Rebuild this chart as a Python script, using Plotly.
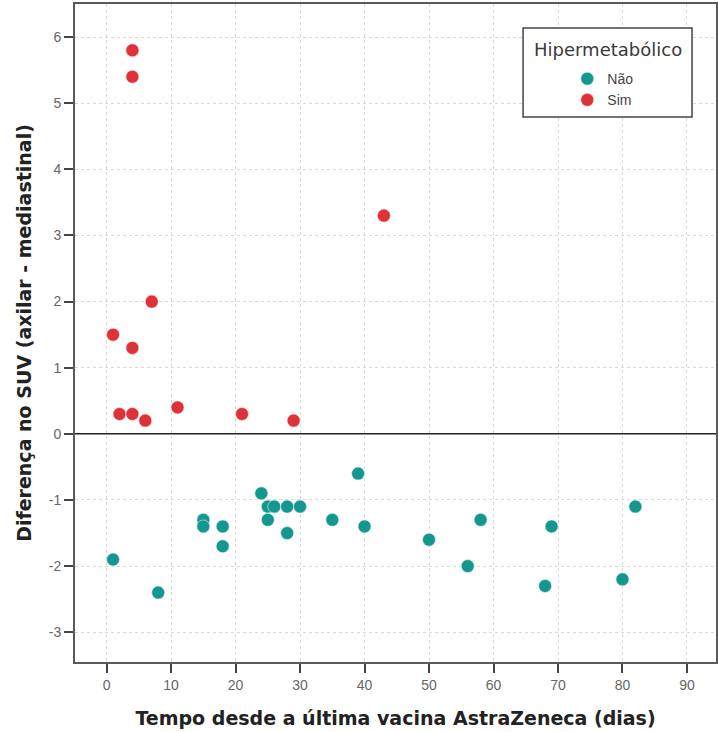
import plotly.graph_objects as go

# Não (not hypermetabolic)
nao_x = [1, 8, 15, 15, 18, 18, 24, 25, 26, 25, 28, 28, 30, 35, 39, 40, 50, 56, 58, 68, 69, 80, 82]
nao_y = [-1.9, -2.4, -1.3, -1.4, -1.4, -1.7, -0.9, -1.1, -1.1, -1.3, -1.1, -1.5, -1.1, -1.3, -0.6, -1.4, -1.6, -2.0, -1.3, -2.3, -1.4, -2.2, -1.1]
# Sim (hypermetabolic)
sim_x = [4, 4, 43, 7, 1, 4, 2, 4, 6, 11, 21, 29]
sim_y = [5.8, 5.4, 3.3, 2.0, 1.5, 1.3, 0.3, 0.3, 0.2, 0.4, 0.3, 0.2]

x_ticks = [0, 10, 20, 30, 40, 50, 60, 70, 80, 90]
y_ticks = [-3, -2, -1, 0, 1, 2, 3, 4, 5, 6]
y_tick_labels = ["-3", "-2", "-1", "0", "1", "2", "3", "4", "5", "6"]

teal = "#14978f"
red = "#de3139"
FONT = "Liberation Sans, Arial, sans-serif"
TFONT = "DejaVu Sans, Verdana, sans-serif"

fig = go.Figure()
fig.add_trace(go.Scatter(x=nao_x, y=nao_y, mode="markers", name="Não",
                         marker=dict(size=13, color=teal, line=dict(color="#dff3f1", width=0.6))))
fig.add_trace(go.Scatter(x=sim_x, y=sim_y, mode="markers", name="Sim",
                         marker=dict(size=13, color=red, line=dict(color="#fbe3e3", width=0.6))))

axis_common = dict(
    showgrid=True, gridcolor="#d9d9d9", griddash="dot", gridwidth=1,
    showline=True, linecolor="#5a5a5a", linewidth=2, mirror=True,
    ticks="outside", ticklen=9, tickwidth=2, tickcolor="#444444",
    tickfont=dict(family=FONT, size=14, color="#666666"),
    zeroline=False, automargin=False,
)

fig.update_xaxes(range=[-4.9, 94.5], tickvals=x_ticks,
                 title=dict(text="<b>Tempo desde a última vacina AstraZeneca (dias)</b>",
                            font=dict(family=TFONT, size=19, color="#222222"),
                            standoff=20),
                 **axis_common)
fig.update_yaxes(range=[-3.45, 6.5], tickvals=y_ticks, ticktext=y_tick_labels,
                 title=dict(text="<b>Diferença no SUV (axilar - mediastinal)</b>",
                            font=dict(family=TFONT, size=19, color="#222222"),
                            standoff=12),
                 **axis_common)

fig.add_hline(y=0, line=dict(color="#222222", width=1.5))

# legend frame and title
fig.add_shape(type="rect", xref="paper", yref="paper",
              x0=0.699, x1=0.9626, y0=0.8282, y1=0.9635,
              line=dict(color="#444444", width=1.5), fillcolor="white", layer="above")
fig.add_annotation(xref="paper", yref="paper", x=0.8308, y=0.9316,
                   text="Hipermetabólico", showarrow=False,
                   xanchor="center", yanchor="middle",
                   font=dict(family=TFONT, size=18, color="#3a3a3a"))

fig.update_layout(
    width=718, height=732,
    margin=dict(l=75, r=2, t=4, b=70),
    paper_bgcolor="white", plot_bgcolor="white",
    showlegend=True,
    legend=dict(
        x=0.768, y=0.870, xanchor="left", yanchor="middle",
        bgcolor="rgba(0,0,0,0)", borderwidth=0,
        font=dict(family=FONT, size=14, color="#444444"),
        itemwidth=30, tracegroupgap=0,
    ),
)

fig.write_html("out.html", config={"displayModeBar": False},
               post_script="document.body.style.margin='0';")
